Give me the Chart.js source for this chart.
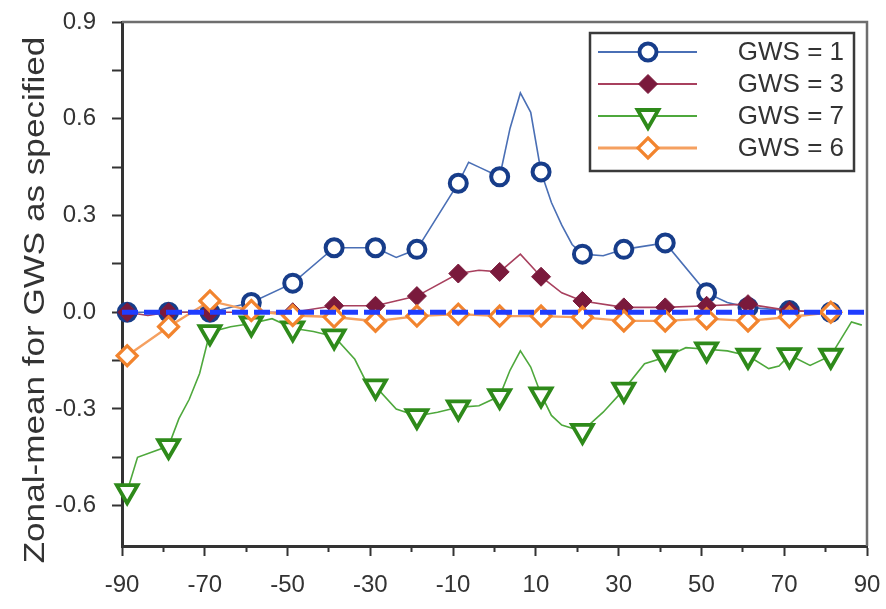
<!DOCTYPE html>
<html><head><meta charset="utf-8">
<script src="https://cdn.jsdelivr.net/npm/chart.js@4/dist/chart.umd.min.js"></script>
<style>html,body{margin:0;padding:0;background:#fff;}</style>
</head><body>
<canvas id="c" width="886" height="609"></canvas>
<script>
// ---- data ----
const markerLat = [-88.75,-78.75,-68.75,-58.75,-48.75,-38.75,-28.75,-18.75,-8.75,1.25,11.25,21.25,31.25,41.25,51.25,61.25,71.25,81.25];

const gws1Lat = [-88.75,-78.75,-68.75,-58.75,-48.75,-38.75,-28.75,-23.75,-18.75,-8.75,-6.25,-3.75,1.25,3.75,6.25,8.75,11.25,13.75,16.25,18.75,21.25,26.25,31.25,41.25,51.25,56.25,61.25,71.25,81.25];
const gws1Val = [0.00,0.00,0.00,0.03,0.09,0.20,0.20,0.17,0.195,0.40,0.465,0.45,0.42,0.57,0.68,0.62,0.435,0.34,0.27,0.21,0.18,0.175,0.195,0.215,0.06,0.03,0.015,0.005,0.00];

const gws3Lat = [-88.75,-83.75,-78.75,-68.75,-58.75,-48.75,-38.75,-28.75,-18.75,-8.75,-3.75,1.25,6.25,11.25,16.25,21.25,31.25,41.25,51.25,61.25,66.25,71.25,81.25];
const gws3Val = [0.00,-0.01,0.00,0.00,0.00,0.00,0.02,0.02,0.05,0.12,0.13,0.125,0.18,0.11,0.06,0.035,0.015,0.015,0.02,0.025,0.015,0.005,0.00];

const gws7Lat = [-88.75,-86.25,-78.75,-76.25,-73.75,-71.25,-68.75,-63.75,-58.75,-53.75,-48.75,-43.75,-38.75,-33.75,-31.25,-28.75,-23.75,-18.75,-13.75,-8.75,-3.75,1.25,3.75,6.25,8.75,11.25,13.75,16.25,18.75,21.25,26.25,31.25,36.25,41.25,46.25,51.25,56.25,61.25,66.25,68.75,71.25,76.25,81.25,86.25,88.75];
const gws7Val = [-0.555,-0.45,-0.415,-0.33,-0.27,-0.19,-0.062,-0.045,-0.035,-0.02,-0.05,-0.06,-0.075,-0.146,-0.21,-0.23,-0.30,-0.322,-0.31,-0.295,-0.29,-0.26,-0.18,-0.12,-0.17,-0.255,-0.32,-0.35,-0.36,-0.368,-0.31,-0.24,-0.16,-0.14,-0.11,-0.115,-0.12,-0.135,-0.175,-0.167,-0.133,-0.165,-0.135,-0.03,-0.04];

const gws6Lat = [-88.75,-78.75,-68.75,-58.75,-48.75,-38.75,-28.75,-18.75,-8.75,1.25,11.25,21.25,31.25,41.25,51.25,61.25,71.25,81.25];
const gws6Val = [-0.135,-0.045,0.035,0.005,-0.01,-0.015,-0.028,-0.012,-0.006,-0.012,-0.012,-0.016,-0.027,-0.027,-0.02,-0.027,-0.015,0.00];

const zeroLat = [-90, 90];
const zeroVal = [0, 0];

const xTickValues = [-90,-80,-70,-60,-50,-40,-30,-20,-10,0,10,20,30,40,50,60,70,80,90];
const xLabelValues = [-90,-70,-50,-30,-10,10,30,50,70,90];
const yTickValues = [-0.6,-0.45,-0.3,-0.15,0,0.15,0.3,0.45,0.6,0.75,0.9];
const yLabelValues = [-0.6,-0.3,0,0.3,0.6,0.9];
const seriesLabels = ['GWS = 1','GWS = 3','GWS = 7','GWS = 6'];
const yTitle = 'Zonal-mean for GWS as specified';

// ---- chart ----
const FONT = "'Liberation Sans', Arial, sans-serif";
const TXT = '#333333';
function pts(lat, val){ return lat.map((x,i)=>({x:x, y:val[i]})); }
function isMarker(ctx){ return ctx.raw && markerLat.indexOf(ctx.raw.x) >= 0; }
function near(list, v){ return list.some(l => Math.abs(l - v) < 1e-9); }

const styles = [
  {line:'#4a6fb5', lw:1.6, mk:'#173d8a', fill:'#ffffff', shape:'circle', r:8.5, bw:4, rot:0},
  {line:'#a8405e', lw:1.6, mk:'#7a1a3c', fill:'#7a1a3c', shape:'rectRot', r:9.5, bw:1, rot:0},
  {line:'#4ea83c', lw:1.6, mk:'#2e8a1a', fill:'#ffffff', shape:'triangle', r:12, bw:3.8, rot:180},
  {line:'#f5a060', lw:2.4, mk:'#f2842e', fill:'#ffffff', shape:'rectRot', r:10, bw:3.2, rot:0}
];
const seriesData = [pts(gws1Lat,gws1Val), pts(gws3Lat,gws3Val), pts(gws7Lat,gws7Val), pts(gws6Lat,gws6Val)];

const datasets = seriesData.map((d,i)=>({
  label: seriesLabels[i],
  data: d,
  borderColor: styles[i].line,
  borderWidth: styles[i].lw,
  pointStyle: styles[i].shape,
  pointRotation: styles[i].rot,
  pointRadius: ctx => isMarker(ctx) ? styles[i].r : 0,
  pointHoverRadius: ctx => isMarker(ctx) ? styles[i].r : 0,
  pointBorderColor: styles[i].mk,
  pointBackgroundColor: styles[i].fill,
  pointBorderWidth: styles[i].bw,
  tension: 0,
  clip: false,
  order: 4 - i,
  _legend: true
}));
datasets.push({
  label: 'zero',
  data: pts(zeroLat, zeroVal),
  borderColor: '#1f3dff',
  borderWidth: 5,
  borderDash: [16, 6],
  pointRadius: 0,
  order: -1,
  clip: false
});

function drawMarker(ctx, s, x, y){
  ctx.save();
  ctx.fillStyle = s.fill; ctx.strokeStyle = s.mk; ctx.lineWidth = s.bw; ctx.setLineDash([]);
  ctx.beginPath();
  if (s.shape === 'circle') {
    ctx.arc(x, y, s.r, 0, Math.PI*2);
  } else if (s.shape === 'rectRot') {
    ctx.moveTo(x, y - s.r); ctx.lineTo(x + s.r, y); ctx.lineTo(x, y + s.r); ctx.lineTo(x - s.r, y);
  } else if (s.shape === 'triangle') {
    let rad = s.rot * Math.PI / 180;
    for (let k=0;k<3;k++){
      const px = x + Math.sin(rad)*s.r, py = y - Math.cos(rad)*s.r;
      if (k===0) ctx.moveTo(px,py); else ctx.lineTo(px,py);
      rad += Math.PI*2/3;
    }
  }
  ctx.closePath();
  ctx.fill(); ctx.stroke();
  ctx.restore();
}

const framePlugin = {
  id: 'frame',
  beforeDatasetsDraw(chart){
    const a = chart.chartArea, ctx = chart.ctx;
    ctx.save();
    ctx.strokeStyle = '#6e6e6e'; ctx.lineWidth = 2.5;
    ctx.beginPath();
    ctx.moveTo(a.left, a.top); ctx.lineTo(a.right, a.top); ctx.lineTo(a.right, a.bottom);
    ctx.stroke();
    ctx.restore();
  }
};

const titlePlugin = {
  id: 'yTitle',
  afterDraw(chart){
    const ctx = chart.ctx;
    ctx.save();
    ctx.translate(36, 300);
    ctx.rotate(-Math.PI / 2);
    ctx.scale(1.17, 1);
    ctx.fillStyle = TXT; ctx.font = '30px ' + FONT;
    ctx.textAlign = 'center'; ctx.textBaseline = 'middle';
    ctx.fillText(yTitle, 0, 0);
    ctx.restore();
  }
};

const legendPlugin = {
  id: 'boxLegend',
  afterDraw(chart){
    const a = chart.chartArea, ctx = chart.ctx;
    const bx = a.right - 277, by = a.top + 11, bw = 264, bh = 138;
    ctx.save();
    ctx.fillStyle = '#ffffff'; ctx.fillRect(bx, by, bw, bh);
    ctx.strokeStyle = '#3a3a3a'; ctx.lineWidth = 2.5; ctx.strokeRect(bx, by, bw, bh);
    chart.data.datasets.forEach((ds, i) => {
      if (!ds._legend) return;
      const s = styles[i];
      const y = by + 19 + i * 32;
      ctx.strokeStyle = s.line; ctx.lineWidth = s.lw + 0.6; ctx.setLineDash([]);
      ctx.beginPath(); ctx.moveTo(bx + 8, y); ctx.lineTo(bx + 107, y); ctx.stroke();
      drawMarker(ctx, s, bx + 58, y);
      ctx.fillStyle = TXT; ctx.font = '26px ' + FONT; ctx.textAlign = 'right'; ctx.textBaseline = 'middle';
      ctx.fillText(ds.label, bx + 254, y + 1);
    });
    ctx.restore();
  }
};

new Chart(document.getElementById('c'), {
  type: 'line',
  data: { datasets: datasets },
  options: {
    responsive: false,
    animation: false,
    devicePixelRatio: 1,
    layout: { padding: { top: 22, right: 19, bottom: 0, left: 0 } },
    plugins: { legend: { display: false }, tooltip: { enabled: false } },
    scales: {
      x: {
        type: 'linear', min: -90, max: 90, position: 'bottom',
        afterBuildTicks: s => { s.ticks = xTickValues.map(v => ({value: v})); },
        afterFit: s => { s.height = 63; s.paddingLeft = 0; s.paddingRight = 0; },
        grid: {
          drawOnChartArea: false, drawTicks: true, tickLength: 10,
          tickColor: '#333', tickWidth: 2,
          tickBorderDash: ctx => (ctx.tick && near(xLabelValues, ctx.tick.value)) ? [] : [4, 40]
        },
        border: { color: '#333', width: 3 },
        ticks: {
          autoSkip: false, maxRotation: 0, minRotation: 0, padding: 15, color: TXT,
          font: { family: FONT, size: 24 },
          callback: v => near(xLabelValues, v) ? String(v) : ''
        }
      },
      y: {
        type: 'linear', min: -0.725, max: 0.9,
        afterBuildTicks: s => { s.ticks = yTickValues.map(v => ({value: v})); },
        afterFit: s => { s.width = 122; s.paddingTop = 0; s.paddingBottom = 0; },
        grid: { drawOnChartArea: false, drawTicks: true, tickLength: 10, tickColor: '#333', tickWidth: 2 },
        border: { color: '#333', width: 3 },
        ticks: {
          padding: 16, color: TXT, font: { family: FONT, size: 24 },
          callback: v => near(yLabelValues, v) ? Number(v).toFixed(1) : ''
        }
      }
    }
  },
  plugins: [framePlugin, titlePlugin, legendPlugin]
});
</script>
</body></html>
